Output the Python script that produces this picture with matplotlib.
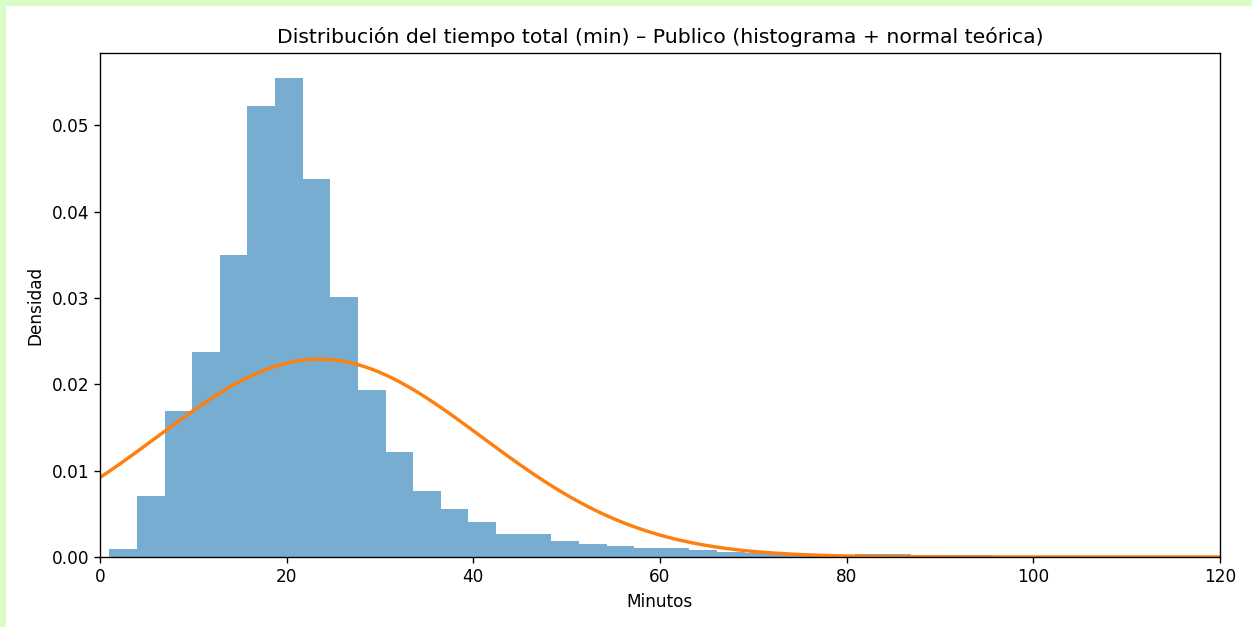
import numpy as np
import matplotlib.pyplot as plt
from matplotlib.patches import Rectangle

# ── Datos ──────────────────────────────────────────────────────────────────────
bin_start = 1.0
bin_width = 2.96
densidad = [
    0.0009, 0.0071, 0.0169, 0.0237, 0.0350, 0.0523, 0.0555, 0.0438,
    0.0301, 0.0193, 0.0122, 0.0077, 0.0056, 0.0041, 0.0027, 0.0027,
    0.0019, 0.0015, 0.0013, 0.0010, 0.0010, 0.0008, 0.0006, 0.0005,
    0.0005, 0.0004, 0.0001, 0.0003, 0.0003, 0.0002, 0.0002, 0.0002,
    0.0001, 0.0001, 0.0001,
]
media = 23.5
desv = 17.4

edges = bin_start + bin_width * np.arange(len(densidad) + 1)
centros = edges[:-1] + bin_width / 2

S = 1.22  # escala aparente del render original
plt.rcParams.update({
    "font.size": 10 * S,
    "axes.linewidth": 0.8 * S,
    "xtick.major.size": 3.5 * S,
    "ytick.major.size": 3.5 * S,
    "xtick.major.width": 0.8 * S,
    "ytick.major.width": 0.8 * S,
})

fig = plt.figure(figsize=(12.52, 6.27), dpi=100, facecolor="#dafcc8")
fig.patches.append(Rectangle((6 / 1252, 0), 1, 1 - 6 / 627, transform=fig.transFigure,
                             facecolor="white", edgecolor="none", zorder=-1))

ax = fig.add_axes([100 / 1252, 1 - 557 / 627, 1120 / 1252, 504 / 627])
ax.hist(centros, bins=edges, weights=densidad, alpha=0.6)

x = np.linspace(0, 120, 400)
pdf = np.exp(-0.5 * ((x - media) / desv) ** 2) / (desv * np.sqrt(2 * np.pi))
ax.plot(x, pdf, color="C1", linewidth=2 * S)

ax.set_xlim(0, 120)
ax.set_ylim(0, 0.0584)
ax.set_title("Distribución del tiempo total (min) – Publico (histograma + normal teórica)",
             fontsize=12 * S, pad=6 * S)
ax.set_xlabel("Minutos", labelpad=4 * S)
ax.set_ylabel("Densidad", labelpad=4 * S)

plt.savefig("out.png", dpi=100, facecolor=fig.get_facecolor())
